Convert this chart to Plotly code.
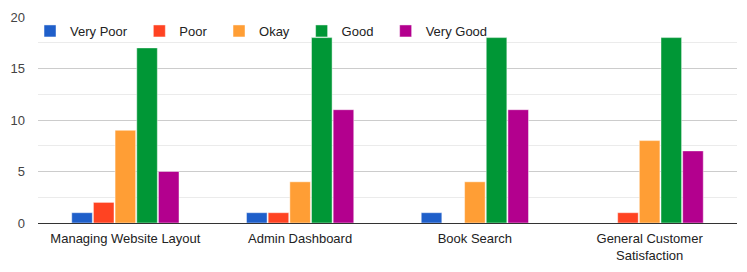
import plotly.graph_objects as go

categories = ["Managing Website Layout", "Admin Dashboard", "Book Search", "General Customer<br>Satisfaction"]
series_names = ["Very Poor", "Poor", "Okay", "Good", "Very Good"]
very_poor = [1, 1, 1, 0]
poor = [2, 1, 0, 1]
okay = [9, 4, 4, 8]
good = [17, 18, 18, 18]
very_good = [5, 11, 11, 7]
colors = ["#1f5fca", "#ff4322", "#ff9e35", "#009736", "#b3008e"]
y_ticks = [0, 5, 10, 15, 20]

PAD = "\u00a0\u00a0"

fig = go.Figure()
for name, vals, col in zip(series_names, [very_poor, poor, okay, good, very_good], colors):
    fig.add_trace(go.Bar(
        x=categories, y=vals, name=name + PAD,
        marker=dict(color=col, line=dict(color="rgba(255,255,255,0.45)", width=1)),
    ))

fig.update_layout(
    width=747, height=272,
    margin=dict(l=38, r=10, t=17, b=49, autoexpand=False),
    paper_bgcolor="white", plot_bgcolor="white",
    barmode="group", bargap=0.38, bargroupgap=0.05,
    font=dict(family="Arial, Liberation Sans, sans-serif", size=13, color="#222222"),
    showlegend=True,
    legend=dict(orientation="h", xref="container", yref="container",
                x=0.0402, xanchor="left", y=0.886, yanchor="middle",
                bgcolor="rgba(0,0,0,0)", font=dict(size=13, color="#222222"),
                itemwidth=30, traceorder="normal"),
    xaxis=dict(showgrid=False, ticks="", showline=False, ticklabelstandoff=6,
               tickfont=dict(size=13, color="#222222")),
    yaxis=dict(range=[0, 20], tickvals=y_ticks, showgrid=True, gridcolor="#cccccc", gridwidth=1,
               zeroline=True, zerolinecolor="#333333", zerolinewidth=1,
               tickfont=dict(size=13, color="#444444"), ticks="", ticklabelstandoff=12,
               minor=dict(dtick=2.5, showgrid=True, gridcolor="#ebebeb")),
)

fig.write_html("out.html")
